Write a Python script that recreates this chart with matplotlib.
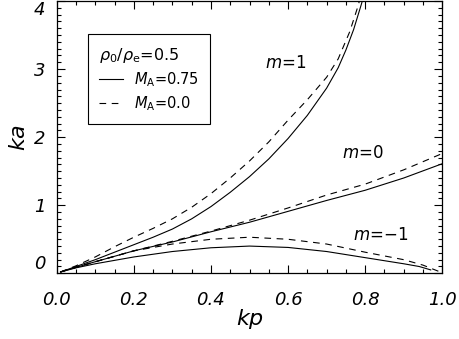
import matplotlib
matplotlib.use("Agg")
import matplotlib.pyplot as plt
import numpy as np

# m=1 branch
kp_m1_solid = [0.01, 0.05, 0.1, 0.15, 0.2, 0.25, 0.3, 0.35, 0.4, 0.45, 0.5, 0.55, 0.6, 0.65, 0.7, 0.73, 0.75, 0.77, 0.79, 0.80]
ka_m1_solid = [0.02, 0.10, 0.20, 0.31, 0.42, 0.53, 0.65, 0.80, 0.98, 1.19, 1.42, 1.68, 1.98, 2.32, 2.72, 3.02, 3.28, 3.58, 3.95, 4.15]
kp_m1_dash = [0.01, 0.05, 0.1, 0.15, 0.2, 0.25, 0.3, 0.35, 0.4, 0.45, 0.5, 0.55, 0.6, 0.65, 0.7, 0.73, 0.76, 0.78, 0.79]
ka_m1_dash = [0.02, 0.11, 0.24, 0.39, 0.53, 0.66, 0.80, 0.97, 1.17, 1.40, 1.65, 1.93, 2.25, 2.55, 2.88, 3.15, 3.55, 3.90, 4.10]

# m=0 branch
kp_m0_solid = [0.01, 0.1, 0.2, 0.3, 0.4, 0.5, 0.6, 0.7, 0.8, 0.9, 1.0]
ka_m0_solid = [0.02, 0.17, 0.33, 0.46, 0.61, 0.75, 0.91, 1.07, 1.22, 1.40, 1.61]
kp_m0_dash = [0.01, 0.1, 0.2, 0.3, 0.4, 0.5, 0.6, 0.7, 0.8, 0.9, 1.0]
ka_m0_dash = [0.02, 0.17, 0.33, 0.47, 0.62, 0.78, 0.96, 1.15, 1.31, 1.52, 1.76]

# m=-1 branch
kp_mm1_solid = [0.01, 0.05, 0.1, 0.15, 0.2, 0.3, 0.4, 0.5, 0.6, 0.7, 0.8, 0.9, 0.94, 0.97]
ka_mm1_solid = [0.02, 0.08, 0.14, 0.19, 0.24, 0.32, 0.375, 0.40, 0.38, 0.32, 0.23, 0.14, 0.10, 0.05]
kp_mm1_dash = [0.01, 0.05, 0.1, 0.15, 0.2, 0.3, 0.4, 0.5, 0.6, 0.7, 0.8, 0.9, 0.95, 0.99]
ka_mm1_dash = [0.02, 0.09, 0.17, 0.25, 0.33, 0.43, 0.50, 0.53, 0.50, 0.43, 0.31, 0.20, 0.12, 0.03]

fig = plt.figure(figsize=(4.6, 3.39), dpi=100)
ax = fig.add_axes([0.1233, 0.1938, 0.8382, 0.8032])

lw = 0.8
dash = (6, 5)
ax.plot(kp_m1_solid, ka_m1_solid, 'k-', lw=lw, label=r"$M_{\rm A}$=0.75")
ax.plot(kp_m1_dash, ka_m1_dash, 'k--', lw=lw, dashes=dash, label=r"$M_{\rm A}$=0.0")
ax.plot(kp_m0_solid, ka_m0_solid, 'k-', lw=lw)
ax.plot(kp_m0_dash, ka_m0_dash, 'k--', lw=lw, dashes=dash)
ax.plot(kp_mm1_solid, ka_mm1_solid, 'k-', lw=lw)
ax.plot(kp_mm1_dash, ka_mm1_dash, 'k--', lw=lw, dashes=dash)

ax.set_xlim(0, 1.0)
ax.set_ylim(0, 4)
ax.set_xticks(np.arange(0, 1.01, 0.2))
ax.set_xticks(np.arange(0, 1.01, 0.05), minor=True)
ax.set_yticks([0, 1, 2, 3, 4])
ax.set_yticks(np.arange(0, 4.01, 0.1), minor=True)
ax.set_xticklabels(["0.0", "0.2", "0.4", "0.6", "0.8", "1.0"], fontsize=13, style='italic')
ylabs = ax.set_yticklabels(["0", "1", "2", "3", "4"], fontsize=13, style='italic')
ylabs[0].set_va('bottom')
ylabs[-1].set_va('top')
ax.tick_params(which='both', direction='in', top=True, right=True, width=0.8)
ax.tick_params(axis='x', which='major', length=6, pad=13)
ax.tick_params(axis='y', which='major', length=6, pad=8)
ax.tick_params(which='minor', length=3)
for s in ax.spines.values():
    s.set_linewidth(0.9)

ax.set_xlabel(r"$kp$", fontsize=16, labelpad=-2)
ax.set_ylabel(r"$ka$", fontsize=16, labelpad=4)

ax.text(0.593, 3.09, r"$m$=1", fontsize=12, ha='center', va='center')
ax.text(0.795, 1.76, r"$m$=0", fontsize=12, ha='center', va='center')
ax.text(0.84, 0.56, r"$m$=$-$1", fontsize=12, ha='center', va='center')

leg = ax.legend(title=r"$\rho_0/\rho_{\rm e}$=0.5", loc='upper left',
                bbox_to_anchor=(0.080, 0.878), borderaxespad=0,
                fontsize=10.5, title_fontsize=11.5,
                fancybox=False, edgecolor='k', framealpha=1, handlelength=1.6,
                borderpad=0.8, labelspacing=0.35, alignment='left')
leg.get_frame().set_linewidth(0.8)

fig.savefig("out.png", dpi=100)
